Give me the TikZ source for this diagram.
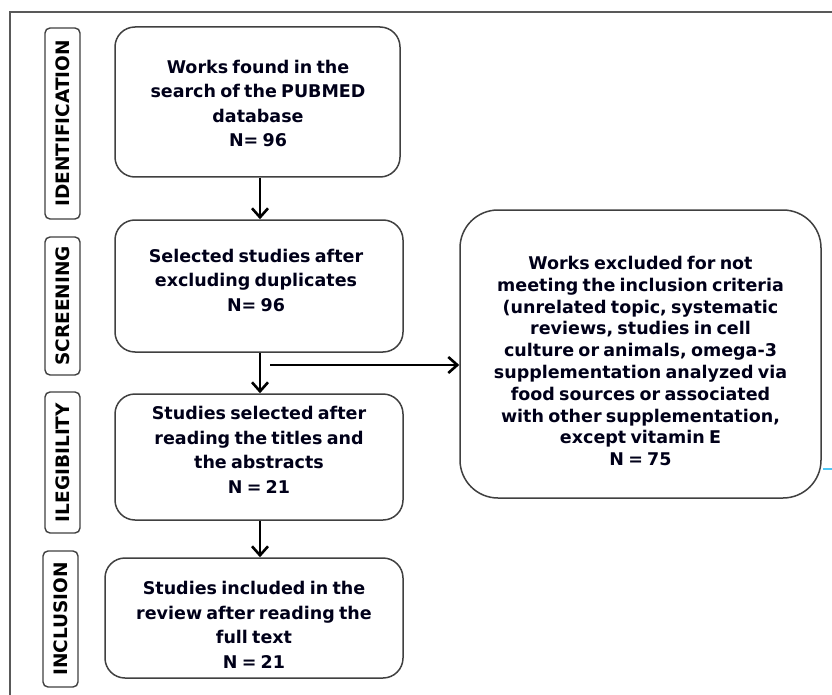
\documentclass[tikz,border=0pt]{standalone}
\usepackage{fontspec}
\setmainfont{DejaVu Sans}[WordSpace=0.7]
\usetikzlibrary{arrows.meta}
\begin{document}
\begin{tikzpicture}[x=1pt,y=-1pt,
  frame/.style={draw=black!65,line width=1.6pt},
  box/.style={draw=black!75,line width=1.5pt,rounded corners=20pt,inner sep=0pt},
  bigbox/.style={box,rounded corners=38pt},
  txt/.style={align=center,text=black!90!blue,font=\bfseries\fontsize{17.5}{24.5}\selectfont,inner sep=0pt},
  txtb/.style={txt,font=\bfseries\fontsize{17.5}{21.8}\selectfont},
  stage/.style={draw=black!75,line width=1.4pt,rounded corners=5pt,rotate=90,
    minimum height=35pt,inner sep=0pt,font=\bfseries\fontsize{18.5}{20}\selectfont},
  arr/.style={-{Straight Barb[length=9pt,width=16pt,line width=2.6pt]},line width=2.8pt,black}]
\useasboundingbox (0,0) rectangle (832,695);
\fill[white] (0,0) rectangle (832,695);
% frame (top and left only)
\draw[frame] (832,12) -- (10,12) -- (10,695);
\draw[cyan!70,line width=1.2pt] (823,469) -- (832,469);
% stage labels
\node[stage,minimum width=191pt] (sid) at (62.5,123.5) {IDENTIFICATION};
\node[stage,minimum width=138pt] (ssc) at (62.5,306) {SCREENING};
\node[stage,minimum width=141pt] (sil) at (62.5,462.5) {ILEGIBILITY};
\node[stage,minimum width=136pt] (sin) at (60.5,619) {INCLUSION};
% boxes
\node[box,minimum width=285pt,minimum height=150pt] (b1) at (257.5,102) {};
\node[box,minimum width=288pt,minimum height=132pt] (b2) at (259,286) {};
\node[box,minimum width=288pt,minimum height=126pt] (b3) at (259,457) {};
\node[box,minimum width=298pt,minimum height=120pt] (b4) at (254,618) {};
\node[bigbox,minimum width=361pt,minimum height=288pt] (b5) at (640.5,354) {};
% texts
\node[txt] (t1) at (258,103.5) {Works found in the\\search of the PUBMED\\database\\N= 96};
\node[txt] (t2) at (256,280) {Selected studies after\\excluding duplicates\quad\ \\N= 96};
\node[txt] (t3) at (259,450) {Studies selected after\\reading the titles and\\the abstracts\\N = 21};
\node[txt] (t4) at (254,625) {Studies included in the\\review after reading the\\full text\\N = 21};
\node[txtb] (t5) at (640.5,361) {Works excluded for not\\meeting the inclusion criteria\\(unrelated topic, systematic\\reviews, studies in cell\\culture or animals, omega-3\\supplementation analyzed via\\food sources or associated\\with other supplementation,\\except vitamin E\\N = 75};
% connectors
\coordinate (h0) at (270,365);
\draw[arr] (b1.south -| 260,0) -- (b2.north -| 260,0);
\draw[arr] (b2.south -| 260,0) -- (b3.north -| 260,0);
\draw[arr] (b3.south -| 260,0) -- (b4.north -| 260,0);
\draw[arr] (h0) -- (h0 -| b5.west);
\end{tikzpicture}
\end{document}
